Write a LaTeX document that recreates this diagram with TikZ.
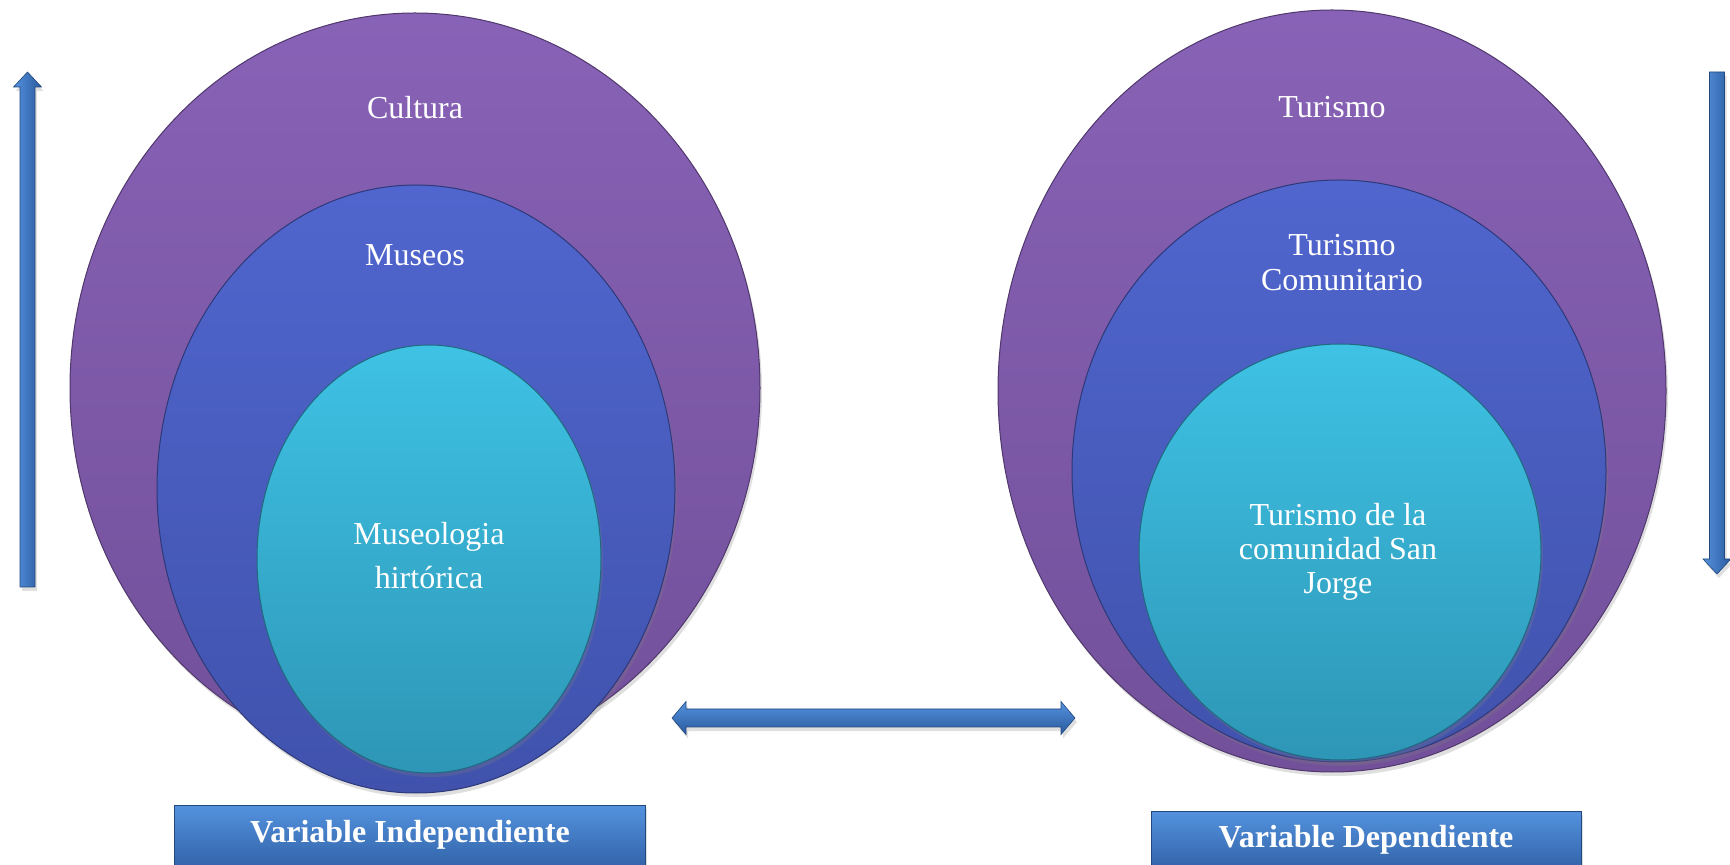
\documentclass[tikz,border=0pt]{standalone}
\usepackage{fontspec}
\setmainfont{Liberation Serif}
\usetikzlibrary{shapes.geometric,shadows,calc}
\definecolor{purT}{RGB}{136,98,182}
\definecolor{purB}{RGB}{114,80,154}
\definecolor{bluT}{RGB}{80,102,206}
\definecolor{bluB}{RGB}{64,82,172}
\definecolor{cyaT}{RGB}{62,194,228}
\definecolor{cyaB}{RGB}{46,150,182}
\definecolor{arrT}{RGB}{84,146,222}
\definecolor{arrB}{RGB}{42,90,158}
\tikzset{
  oval/.style={ellipse, inner sep=0pt, line width=0.5pt,
    drop shadow={opacity=0.25, shadow xshift=1pt, shadow yshift=-2pt}},
  purov/.style={oval, top color=purT, bottom color=purB, draw=purB!70!black},
  bluov/.style={oval, top color=bluT, bottom color=bluB, draw=bluB!70!black},
  cyaov/.style={oval, top color=cyaT, bottom color=cyaB, draw=cyaB!70!black},
  lbl/.style={text=white, align=center, inner sep=0pt, font=\fontsize{16}{19}\selectfont},
  arrowfill/.style={top color=arrT, bottom color=arrB, draw=arrB!80!black, line width=0.3pt,
    drop shadow={opacity=0.25, shadow xshift=1pt, shadow yshift=-2pt}},
  varrowfill/.style={left color=arrT, right color=arrB, draw=arrB!80!black, line width=0.3pt,
    drop shadow={opacity=0.25, shadow xshift=1pt, shadow yshift=-2pt}},
  varbox/.style={rectangle, inner sep=0pt, top color=arrT, bottom color=arrB,
    draw=arrB!80!black, line width=0.4pt,
    drop shadow={opacity=0.25, shadow xshift=1pt, shadow yshift=-2pt}},
  boxtxt/.style={text=white, inner sep=0pt, font=\fontsize{16}{19}\selectfont\bfseries},
}
\begin{document}
\begin{tikzpicture}[x=0.5pt,y=-0.5pt]
\useasboundingbox (0,0) rectangle (1730,865);
\clip (0,0) rectangle (1730,865);

% left group
\node[purov, minimum width=345pt, minimum height=375pt] (cul) at (415,388) {};
\node[bluov, minimum width=259pt, minimum height=304pt] (mus) at (416,489) {};
\node[cyaov, minimum width=172pt, minimum height=214pt] (mh) at (429,559) {};
\node[lbl] (tcul) at (415,108) {Cultura};
\node[lbl] (tmus) at (415,255) {Museos};
\node[lbl, font=\fontsize{16}{22}\selectfont] (tmh) at (429,556) {Museologia\\hirtórica};

% right group
\node[purov, minimum width=334pt, minimum height=381pt] (tur) at (1332,391) {};
\node[bluov, minimum width=267pt, minimum height=291pt] (tco) at (1339,471) {};
\node[cyaov, minimum width=201pt, minimum height=208pt] (tsj) at (1340,552) {};
\node[lbl] (ttur) at (1332,107) {Turismo};
\node[lbl, font=\fontsize{16}{17.5}\selectfont] (ttco) at (1342,263) {Turismo\\Comunitario};
\node[lbl, font=\fontsize{16}{17}\selectfont] (ttsj) at (1338,552) {Turismo de la\\comunidad San\\Jorge};

% left up arrow
\coordinate (ua1) at (27.5,587);
\coordinate (ua2) at (27.5,72);
\path[varrowfill] ($(ua1)+(-7.5,0)$) -- ($(ua2)+(-7.5,15)$) -- ($(ua2)+(-14,15)$) -- (ua2)
  -- ($(ua2)+(14,15)$) -- ($(ua2)+(7.5,15)$) -- ($(ua1)+(7.5,0)$) -- cycle;

% right down arrow
\coordinate (da1) at (1717,72);
\coordinate (da2) at (1717,574);
\path[varrowfill] ($(da1)+(-7.5,0)$) -- ($(da2)+(-7.5,-15)$) -- ($(da2)+(-14,-15)$) -- (da2)
  -- ($(da2)+(14,-15)$) -- ($(da2)+(7.5,-15)$) -- ($(da1)+(7.5,0)$) -- cycle;

% horizontal double arrow
\coordinate (ha1) at (672,718);
\coordinate (ha2) at (1075,718);
\path[arrowfill] (ha1) -- ($(ha1)+(14,-16.5)$) -- ($(ha1)+(14,-9)$) -- ($(ha2)+(-14,-9)$)
  -- ($(ha2)+(-14,-16.5)$) -- (ha2) -- ($(ha2)+(-14,16.5)$) -- ($(ha2)+(-14,9)$)
  -- ($(ha1)+(14,9)$) -- ($(ha1)+(14,16.5)$) -- cycle;

% variable boxes
\node[varbox, minimum width=235.5pt, minimum height=37.5pt] (vi) at (409.5,842.5) {};
\node[boxtxt] (tvi) at (410,835) {Variable Independiente};
\node[varbox, minimum width=215pt, minimum height=34.5pt] (vd) at (1366,845.5) {};
\node[boxtxt] (tvd) at (1366,840) {Variable Dependiente};
\end{tikzpicture}
\end{document}
